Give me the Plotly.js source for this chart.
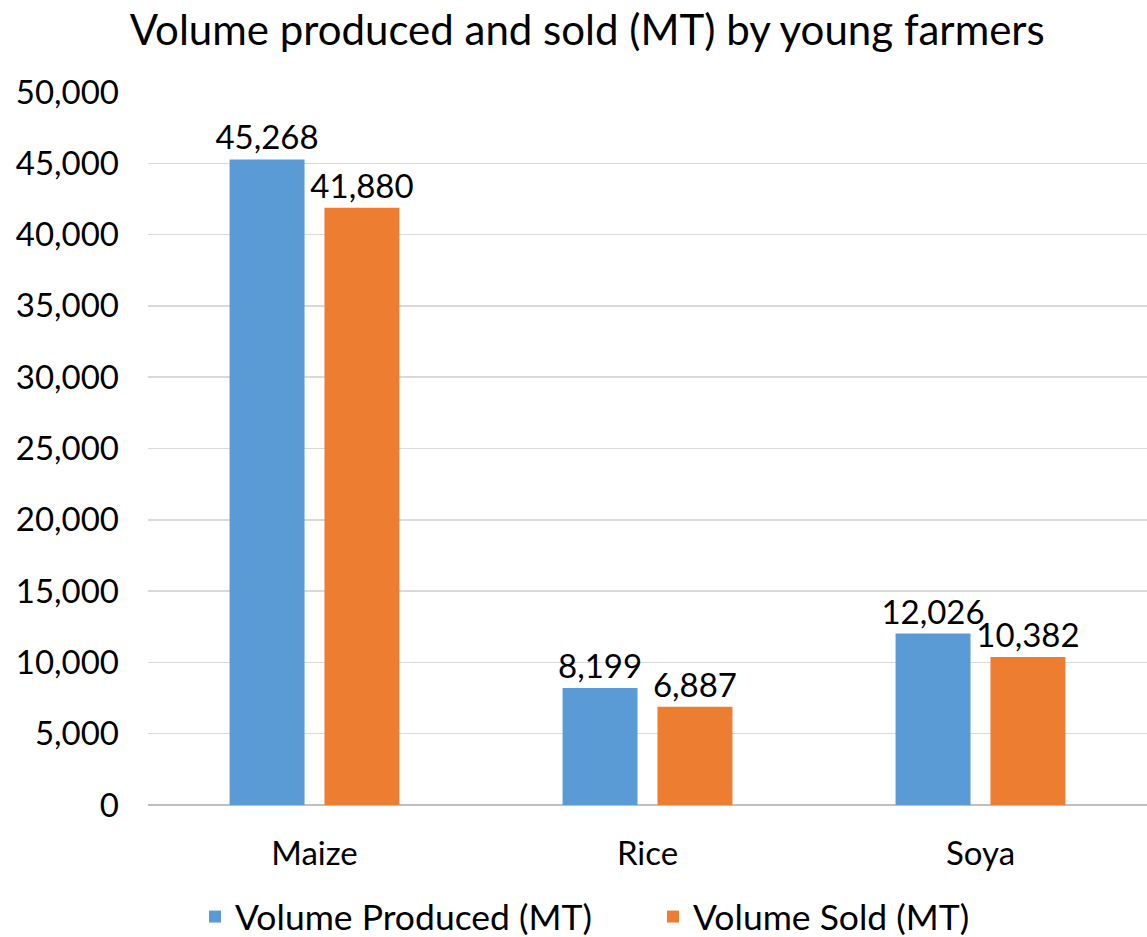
<!DOCTYPE html>
<html>
<head>
<meta charset="utf-8">
<script src="https://cdn.plot.ly/plotly-3.0.1.min.js"></script>
<style>html,body{margin:0;padding:0;background:#fff;}#chart{width:1147px;height:937px;}</style>
</head>
<body>
<div id="chart"></div>
<script>
const categories = ["Maize", "Rice", "Soya"];
const produced = [45268, 8199, 12026];
const sold = [41880, 6887, 10382];
const seriesNames = ["Volume Produced (MT)", "Volume Sold (MT)"];
const tickVals = [0, 5000, 10000, 15000, 20000, 25000, 30000, 35000, 40000, 45000, 50000];

const font = "Lato, 'Open Sans', sans-serif";
const labelFont = {size: 33, color: "#000", family: font};
const traces = [
  {type: "bar", name: seriesNames[0], x: categories, y: produced,
   marker: {color: "#5B9BD5"}, text: produced.map(v => v.toLocaleString("en-US")),
   textposition: "outside", constraintext: "none", cliponaxis: false, textfont: labelFont},
  {type: "bar", name: seriesNames[1], x: categories, y: sold,
   marker: {color: "#ED7D31"}, text: sold.map(v => v.toLocaleString("en-US")),
   textposition: "outside", constraintext: "none", cliponaxis: false, textfont: labelFont}
];

const layout = {
  width: 1147, height: 937,
  margin: {l: 148, r: 0, t: 92, b: 132},
  paper_bgcolor: "#fff", plot_bgcolor: "#fff",
  font: {family: font, color: "#000", size: 33},
  title: {text: "Volume produced and sold (MT) by young farmers", x: 0.512, xanchor: "center", y: 0.968, yanchor: "middle",
          font: {size: 42, family: font, color: "#000"}},
  barmode: "group", bargap: 0.43, bargroupgap: 0.21,
  xaxis: {type: "category", showline: false, ticks: "", tickfont: {size: 33}, automargin: false, ticklabelstandoff: 26},
  yaxis: {range: [0, 50000], tickvals: tickVals, tickformat: ",d", gridcolor: "#D9D9D9", gridwidth: 1.5,
          zeroline: true, zerolinecolor: "#BFBFBF", zerolinewidth: 1.5, tickfont: {size: 33}, ticks: "",
          automargin: false, ticklabelstandoff: 28},
  legend: {orientation: "h", xref: "container", yref: "container", x: 195 / 1147, xanchor: "left",
           y: 20 / 937, yanchor: "middle", font: {size: 35.5}, itemwidth: 30, entrywidth: 413, tracegroupgap: 0},
  showlegend: true
};
Plotly.newPlot("chart", traces, layout, {displayModeBar: false, staticPlot: true});
</script>
</body>
</html>
